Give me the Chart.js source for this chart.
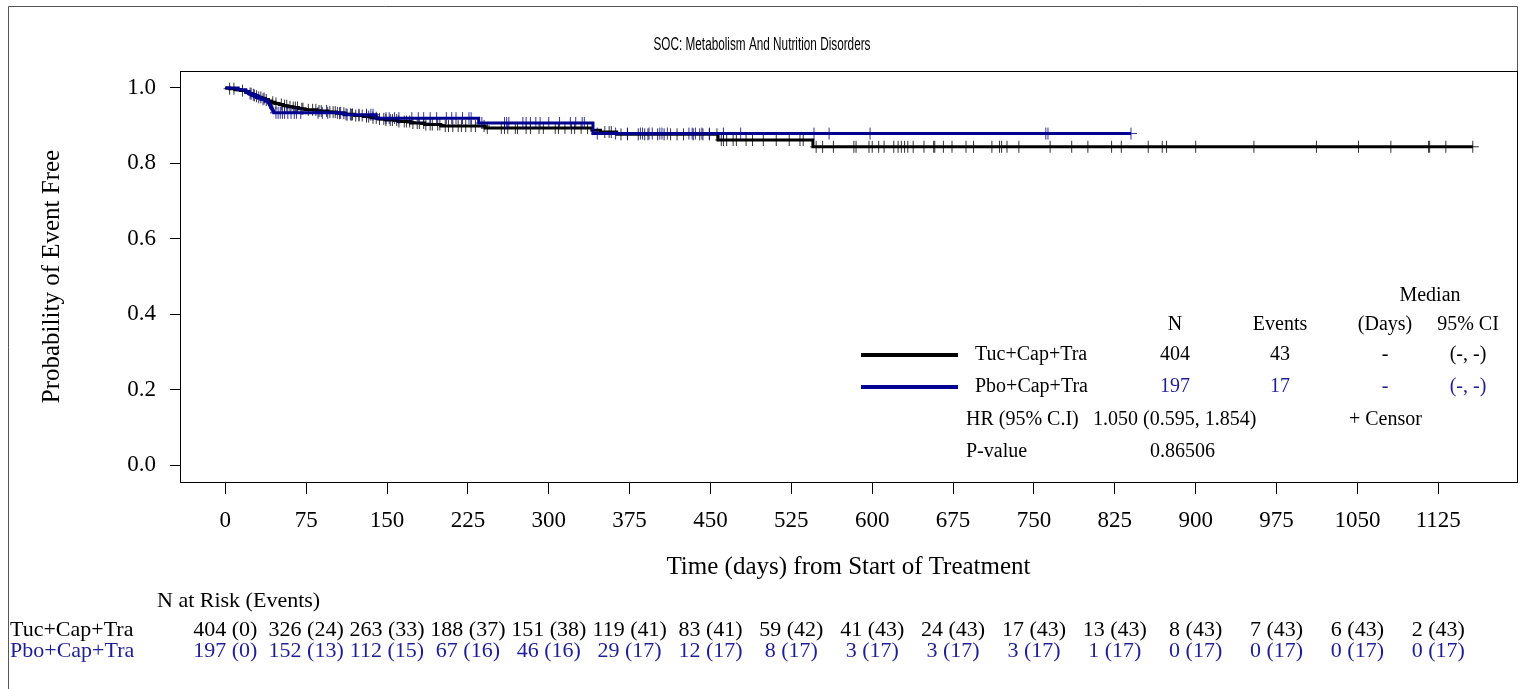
<!DOCTYPE html>
<html>
<head>
<meta charset="utf-8">
<title>SOC: Metabolism And Nutrition Disorders</title>
<script src="https://cdn.jsdelivr.net/npm/chart.js@4.4.1/dist/chart.umd.min.js"></script>
<style>
  html, body { margin: 0; padding: 0; background: #fff; }
  #wrap { width: 1524px; height: 689px; }
</style>
</head>
<body>
<div id="wrap"><canvas id="km" width="1524" height="689"></canvas></div>
<script>
// ---- axis ticks ----
const xTicks = [0, 75, 150, 225, 300, 375, 450, 525, 600, 675, 750, 825, 900, 975, 1050, 1125];
const yTicks = [0, 0.2, 0.4, 0.6, 0.8, 1.0];

// ---- KM step estimates ----
const tucTime = [0, 4, 9, 14, 19, 22, 25, 28, 31, 34, 37, 40, 43, 46, 50, 54, 58, 63, 68, 74,
                 85, 95, 103, 112, 120, 128, 135, 142, 149, 160, 172, 185, 200, 241, 340, 348, 363, 457, 545, 1157];
const tucSurv = [1.000, 0.998, 0.995, 0.993, 0.990, 0.985, 0.982, 0.978, 0.975, 0.972, 0.968, 0.965, 0.962, 0.959, 0.956, 0.953, 0.950, 0.948, 0.945, 0.942,
                 0.939, 0.936, 0.933, 0.930, 0.927, 0.924, 0.921, 0.918, 0.915, 0.911, 0.907, 0.903, 0.899, 0.894, 0.888, 0.883, 0.877, 0.862, 0.844, 0.844];

const pboTime = [0, 12, 19, 22, 25, 29, 33, 37, 40, 41, 42, 43, 44, 45, 110, 140, 235, 341, 840];
const pboSurv = [1.000, 0.995, 0.990, 0.985, 0.980, 0.975, 0.970, 0.965, 0.960, 0.955, 0.949, 0.944, 0.939, 0.934, 0.929, 0.920, 0.907, 0.879, 0.879];

// ---- censoring times ----
const tucCensor = [4, 8, 16, 23, 26, 29, 33, 36, 38, 44, 47, 52, 55, 57, 60, 63, 65, 67, 71, 72, 77, 81, 84, 87, 89, 94, 97, 100, 102, 106,
                   110, 112, 116, 118, 121, 124, 127, 131, 133, 137, 140, 143, 147, 149, 153, 155, 159, 161, 166, 168, 171, 174, 178, 180,
                   184, 186, 190, 192, 197, 199, 204, 207, 211, 216, 219, 223,
                   228, 232, 240, 243, 256, 259, 262, 269, 271, 279, 283, 291, 295, 306, 309, 315, 321, 324, 330, 336, 352, 356, 358, 367,
                   373, 383, 389, 392, 401, 407, 413, 419, 425, 434, 440, 443, 449, 456, 460, 462, 465, 471, 474, 483, 489, 499, 511, 523,
                   533, 536, 548, 554, 564,
                   583, 585, 597, 600, 606, 611, 620, 624, 627, 630, 633, 638, 648, 657, 658, 666, 674, 687, 694, 711, 718, 720, 725, 736,
                   765, 785, 800, 822, 831, 856, 869, 873, 900, 954, 1012, 1051, 1081, 1116, 1117, 1132, 1157];
const pboCensor = [24, 27, 31, 35, 47, 49, 51, 53, 55, 58, 61, 64, 66, 70, 86, 90, 95, 104, 107, 113, 117, 124, 131, 135, 137, 149, 152,
                   157, 161, 173, 179, 184, 190, 196, 205, 210, 214, 220,
                   226, 228, 238, 259, 261, 263, 276, 279, 283, 288, 292, 300, 310, 320, 325, 331, 333, 345, 362, 373, 385, 387, 393, 396,
                   403, 405, 410, 430, 433, 436, 442, 449, 462, 478, 546, 560,
                   598, 761, 763, 840];

// ---- legend / summary ----
const armNames   = ['Tuc+Cap+Tra', 'Pbo+Cap+Tra'];
const armN       = [404, 197];
const armEvents  = [43, 17];
const armMedian  = ['-', '-'];
const armCI      = ['(-, -)', '(-, -)'];
const hrText     = '1.050 (0.595, 1.854)';
const pValue     = '0.86506';

// ---- number at risk (cumulative events) ----
const tucAtRisk  = [404, 326, 263, 188, 151, 119, 83, 59, 41, 24, 17, 13, 8, 7, 6, 2];
const tucEvents  = [0, 24, 33, 37, 38, 41, 41, 42, 43, 43, 43, 43, 43, 43, 43, 43];
const pboAtRisk  = [197, 152, 112, 67, 46, 29, 12, 8, 3, 3, 3, 1, 0, 0, 0, 0];
const pboEvents  = [0, 13, 15, 16, 16, 17, 17, 17, 17, 17, 17, 17, 17, 17, 17, 17];

const chartTitle = 'SOC: Metabolism And Nutrition Disorders';

const BLACK = '#000000';
const BLUE  = '#000090';
const BLUE_TXT = '#1e1e96';
const SERIF = "'Liberation Serif', 'Times New Roman', Times, serif";
const SANS  = "'Liberation Sans', Arial, sans-serif";

// step lookup: survival in effect at time t
function survAt(times, surv, t) {
    let s = surv[0];
    for (let i = 0; i < times.length; i++) {
        if (times[i] <= t) s = surv[i];
        else break;
    }
    return s;
}

const toPoints = (times, surv) => times.map((t, i) => ({ x: t, y: surv[i] }));
const censorPoints = (cens, times, surv) => cens.map(t => ({ x: t, y: survAt(times, surv, t) }));

// =============================================
// EXTRA DRAWING: title, frame, box, legend table, risk table
// =============================================
const extras = {
    id: 'extras',
    beforeDraw(chart) {
        const { ctx } = chart;
        ctx.save();
        ctx.fillStyle = '#fff';
        ctx.fillRect(0, 0, chart.width, chart.height);
        ctx.restore();
    },
    afterDraw(chart) {
        const { ctx, chartArea: a, scales: { x } } = chart;
        ctx.save();

        // condensed sans title
        ctx.font = `18px ${SANS}`;
        ctx.fillStyle = BLACK;
        ctx.textAlign = 'center';
        ctx.textBaseline = 'middle';
        const tw = ctx.measureText(chartTitle).width;
        ctx.save();
        ctx.translate(762, 45);
        ctx.scale(217 / tw, 1);
        ctx.fillText(chartTitle, 0, 0);
        ctx.restore();

        // page frame
        ctx.strokeStyle = '#555';
        ctx.lineWidth = 1;
        ctx.beginPath();
        ctx.moveTo(8.5, chart.height);
        ctx.lineTo(8.5, 6.5);
        ctx.lineTo(a.right + 0.5, 6.5);
        ctx.lineTo(a.right + 0.5, a.bottom);
        ctx.stroke();

        // plot box
        ctx.strokeStyle = '#000';
        ctx.strokeRect(Math.round(a.left) + 0.5, Math.round(a.top) + 0.5,
                       Math.round(a.right - a.left), Math.round(a.bottom - a.top));

        // legend table
        ctx.font = `20px ${SERIF}`;
        ctx.textAlign = 'center';
        ctx.fillText('Median', 1430, 296);
        const cols = [1175, 1280, 1385, 1468];
        ['N', 'Events', '(Days)', '95% CI'].forEach((h, i) => ctx.fillText(h, cols[i], 325));

        const rowY = [355, 387];
        const lineCol = [BLACK, BLUE];
        const txtCol = [BLACK, BLUE_TXT];
        armNames.forEach((name, i) => {
            ctx.strokeStyle = lineCol[i];
            ctx.lineWidth = 4;
            ctx.beginPath();
            ctx.moveTo(861, rowY[i]);
            ctx.lineTo(958, rowY[i]);
            ctx.stroke();
            ctx.fillStyle = BLACK;
            ctx.textAlign = 'left';
            ctx.fillText(name, 975, rowY[i]);
            ctx.fillStyle = txtCol[i];
            ctx.textAlign = 'center';
            ctx.fillText(String(armN[i]), cols[0], rowY[i]);
            ctx.fillText(String(armEvents[i]), cols[1], rowY[i]);
            ctx.fillText(armMedian[i], cols[2], rowY[i]);
            ctx.fillText(armCI[i], cols[3], rowY[i]);
        });

        ctx.fillStyle = BLACK;
        ctx.textAlign = 'left';
        ctx.fillText('HR (95% C.I)', 966, 420);
        ctx.fillText(hrText, 1093, 420);
        ctx.fillText('+ Censor', 1349, 420);
        ctx.fillText('P-value', 966, 452);
        ctx.fillText(pValue, 1150, 452);

        // number at risk table
        ctx.font = `22px ${SERIF}`;
        ctx.fillStyle = BLACK;
        ctx.fillText('N at Risk (Events)', 157, 601);
        const riskRows = [
            { name: armNames[0], n: tucAtRisk, ev: tucEvents, col: BLACK, y: 630 },
            { name: armNames[1], n: pboAtRisk, ev: pboEvents, col: BLUE_TXT, y: 651 },
        ];
        riskRows.forEach(r => {
            ctx.fillStyle = r.col;
            ctx.textAlign = 'left';
            ctx.fillText(r.name, 10, r.y);
            ctx.textAlign = 'center';
            xTicks.forEach((t, i) => {
                ctx.fillText(`${r.n[i]} (${r.ev[i]})`, x.getPixelForValue(t), r.y);
            });
        });

        ctx.restore();
    }
};

// =============================================
// CHART
// =============================================
new Chart(document.getElementById('km'), {
    type: 'line',
    data: {
        datasets: [
            {
                label: armNames[1],
                data: toPoints(pboTime, pboSurv),
                borderColor: BLUE,
                borderWidth: 3,
                stepped: 'before',
                pointRadius: 0,
                order: 1,
            },
            {
                label: armNames[1] + ' censor',
                type: 'scatter',
                data: censorPoints(pboCensor, pboTime, pboSurv),
                pointStyle: 'cross',
                pointRadius: 6,
                borderWidth: 1,
                borderColor: 'rgba(0,0,144,0.8)',
                order: 2,
            },
            {
                label: armNames[0],
                data: toPoints(tucTime, tucSurv),
                borderColor: BLACK,
                borderWidth: 3,
                stepped: 'before',
                pointRadius: 0,
                order: 3,
            },
            {
                label: armNames[0] + ' censor',
                type: 'scatter',
                data: censorPoints(tucCensor, tucTime, tucSurv),
                pointStyle: 'cross',
                pointRadius: 6,
                borderWidth: 1,
                borderColor: 'rgba(0,0,0,0.8)',
                order: 4,
            },
        ]
    },
    options: {
        responsive: false,
        animation: false,
        devicePixelRatio: 1,
        layout: { padding: { left: 0, right: 5, top: 71, bottom: 97 } },
        plugins: {
            legend: { display: false },
            tooltip: { enabled: false },
            title: { display: false },
        },
        scales: {
            x: {
                type: 'linear',
                min: -42,
                max: 1198,
                afterBuildTicks: s => { s.ticks = xTicks.map(v => ({ value: v })); },
                afterFit: s => { s.height = 110; },
                grid: { drawOnChartArea: false, drawTicks: true, tickLength: 12, color: '#000' },
                border: { display: true, color: '#000' },
                ticks: {
                    autoSkip: false, maxRotation: 0, padding: 13, color: '#000',
                    font: { family: SERIF, size: 23 },
                    callback: v => String(v),
                },
                title: {
                    display: true,
                    text: 'Time (days) from Start of Treatment',
                    color: '#000',
                    font: { family: SERIF, size: 25 },
                    padding: { top: 0, bottom: 10 },
                }
            },
            y: {
                min: -0.045,
                max: 1.045,
                afterBuildTicks: s => { s.ticks = yTicks.map(v => ({ value: v })); },
                afterFit: s => { s.width = 180; },
                grid: { drawOnChartArea: false, drawTicks: true, tickLength: 10, color: '#000' },
                border: { display: true, color: '#000' },
                ticks: {
                    padding: 14, color: '#000',
                    font: { family: SERIF, size: 23 },
                    callback: v => v.toFixed(1),
                },
                title: {
                    display: true,
                    text: 'Probability of Event Free',
                    color: '#000',
                    font: { family: SERIF, size: 25 },
                    padding: { top: 37, bottom: 0 },
                }
            }
        }
    },
    plugins: [extras]
});
</script>
</body>
</html>
